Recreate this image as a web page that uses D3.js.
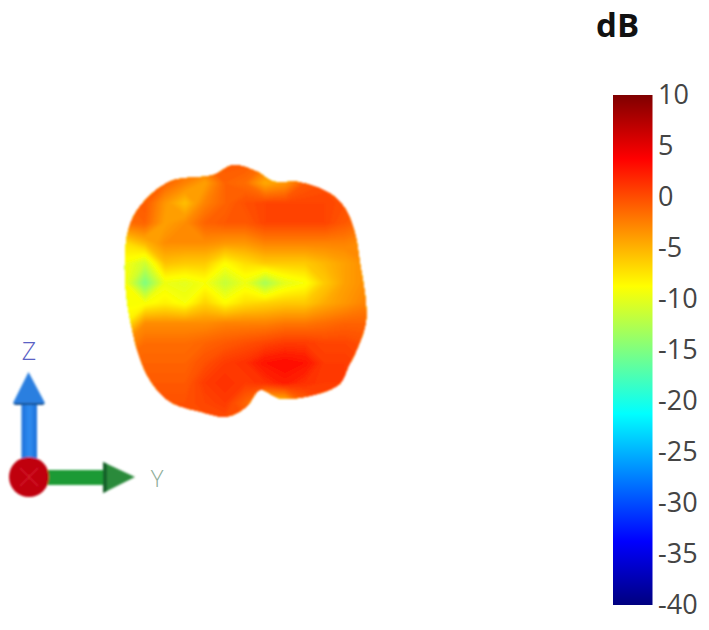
<!DOCTYPE html>
<html lang="en">

<head>
    <meta charset="UTF-8">
    <style>
        body { margin: 0; background: #fff; }
        text { font-family: "Open Sans", sans-serif; }
    </style>
    <script src="https://d3js.org/d3.v7.min.js"></script>
</head>

<body>

    <svg id="chart" width="709" height="630" xmlns="http://www.w3.org/2000/svg"></svg>

    <script>
        // colour bar
        const colorStops = [-40, -33.75, -21.25, -8.75, 3.75, 10];
        const colorValues = ["#00007f", "#0000ff", "#00ffff", "#ffff00", "#ff0000", "#7f0000"];
        const barTicks = [10, 5, 0, -5, -10, -15, -20, -25, -30, -35, -40];

        // pattern positions (y and z axis of the plot)
        const gridY = [-6, -5, -4, -3, -2, -1, 0, 1, 2, 3, 4, 5, 6];
        const gridZ = [6.45, 5.45, 4.45, 3.45, 2.45, 1.45, 0.45, -0.55, -1.55, -2.55, -3.55, -4.55, -5.55, -6.55];

        // gain in dB, one row per gridZ
        const gain = [
            [-1, -1, -1, -1, -1, -0.5, -0.5, -1.5, -2, -1, -1, -1, -1],
            [-1, -1, -1, -2.5, -4, -1, -1.5, -4.5, -3.5, -0.5, 0, 0, -0.5],
            [-1, -0.5, -3.5, -5.5, -2.5, -1, 0, 0.5, 0.5, 0.5, 0.5, 0, -0.5],
            [-1.5, -1, -4, -3, -1, -0.5, -0.5, 0.5, 0.5, 0.5, 0.5, -0.5, -1.5],
            [-7, -5, -3, -3, -3, -3.5, -3.5, -2.5, -2.5, -2.5, -2.5, -2.5, -3],
            [-9, -11, -5.5, -6, -6, -8.5, -7, -6, -6, -6, -5, -4, -3],
            [-9, -15, -9.5, -10, -9, -11.5, -9.5, -13, -10, -9, -6, -4, -3],
            [-9, -9, -8, -9, -6.5, -8.5, -7, -6.5, -6, -6, -4.5, -3.5, -2.5],
            [-8, -3, -3, -3, -3, -2.5, -2.5, -2.5, -2, -2, -1.5, -1, -1],
            [-3, -1.5, -1.5, -1.5, -1, -0.5, 0, 0.5, 1, 1, 0.5, 0.5, 0],
            [-1, -1, -1, -1, 0, 1, 1.5, 3, 3.5, 3, 1, 1, 0.5],
            [-0.5, -0.5, -0.5, -0.5, 1, 1.5, 1, 1.5, 2.5, 1.5, 1, 1, 0.5],
            [0, 0, 0, 0, 0.5, 1, -1, -6, -6, -1, 0.5, 0.5, 0],
            [0, 0, 0, 0, 0, 0, 0, 0, 0, 0, 0, 0, 0]
        ];

        // silhouette of the pattern, clockwise from the top
        const outlineY = [-0.58, 0.58, 1.42, 2.75, 4.25, 5.0, 5.5, 5.75, 6.03, 6.03, 5.58, 5.17, 4.75, 3.42, 1.75, 0.75, 0.08, -0.92, -2.25, -3.75, -4.75, -5.33, -5.67, -5.92, -6.0, -5.83, -5.25, -3.75, -1.58];
        const outlineZ = [6.35, 6.02, 5.52, 5.48, 4.93, 4.18, 2.93, 1.43, -0.4, -1.57, -2.9, -3.73, -4.57, -5.15, -5.32, -4.9, -5.73, -6.23, -5.98, -5.48, -4.4, -3.07, -1.73, -0.23, 1.43, 3.1, 4.27, 5.52, 5.85];

        const svg = d3.select("#chart");
        const defs = svg.append("defs");

        const color = d3.scaleLinear().domain(colorStops).range(colorValues).clamp(true);

        // plot scales: 20px per unit around the centre of the pattern
        const y = d3.scaleLinear().domain([-6, 6]).range([125, 365]);
        const z = d3.scaleLinear().domain([6.45, -6.55]).range([163, 423]);

        defs.append("filter").attr("id", "soft")
            .attr("x", "-10%").attr("y", "-10%").attr("width", "120%").attr("height", "120%")
            .append("feGaussianBlur").attr("stdDeviation", 0.9);

        defs.append("clipPath").attr("id", "outline")
            .append("path")
            .attr("d", d3.line()
                .x((d, i) => y(outlineY[i]))
                .y((d, i) => z(outlineZ[i]))
                .curve(d3.curveCatmullRomClosed.alpha(0.5))(outlineY));

        // filled contours of the gain grid
        const contours = d3.contours()
            .size([gridY.length, gridZ.length])
            .smooth(true)
            .thresholds(d3.range(-20, 6, 0.25))(gain.flat());

        // contour coordinates are grid indices + 0.5
        const gridToY = d3.scaleLinear().domain([0.5, gridY.length - 0.5]).range([y(gridY[0]), y(gridY[gridY.length - 1])]);
        const gridToZ = d3.scaleLinear().domain([0.5, gridZ.length - 0.5]).range([z(gridZ[0]), z(gridZ[gridZ.length - 1])]);
        const gridPath = d3.geoPath(d3.geoTransform({
            point(a, b) { this.stream.point(gridToY(a), gridToZ(b)); }
        }));

        const pattern = svg.append("g").attr("filter", "url(#soft)")
            .append("g").attr("clip-path", "url(#outline)");

        pattern.selectAll("path")
            .data(contours)
            .join("path")
            .attr("d", gridPath)
            .attr("fill", d => color(d.value));

        // colour bar
        const bar = d3.scaleLinear().domain([10, -40]).range([95, 605]);

        const grad = defs.append("linearGradient").attr("id", "jet")
            .attr("x1", 0).attr("x2", 0).attr("y1", 1).attr("y2", 0);
        grad.selectAll("stop")
            .data(colorStops)
            .join("stop")
            .attr("offset", d => (d + 40) / 50)
            .attr("stop-color", d => color(d));

        svg.append("rect")
            .attr("x", 613).attr("y", bar(10))
            .attr("width", 39.5).attr("height", bar(-40) - bar(10))
            .attr("fill", "url(#jet)");

        // plain hyphen in the labels, like the original
        const barAxis = svg.append("g")
            .attr("transform", "translate(658,0)")
            .call(d3.axisRight(bar).tickValues(barTicks).tickSize(0).tickPadding(0).tickFormat(d => String(d)));
        barAxis.select(".domain").remove();
        barAxis.selectAll("text")
            .attr("font-size", 27)
            .attr("fill", "#444")
            .style("font-family", '"Open Sans", sans-serif');

        svg.append("text")
            .attr("x", 596).attr("y", 37)
            .attr("font-size", 33).attr("font-weight", 700).attr("fill", "#111")
            .text("dB");

        // orientation triad
        const triad = svg.append("g").attr("filter", "url(#soft)");

        defs.append("linearGradient").attr("id", "zShaft")
            .selectAll("stop").data([["0", "#1c6fd8"], ["0.5", "#2f8cf0"], ["1", "#1c6fd8"]])
            .join("stop").attr("offset", d => d[0]).attr("stop-color", d => d[1]);

        triad.append("rect").attr("x", 21.5).attr("y", 400).attr("width", 15.5).attr("height", 65).attr("fill", "url(#zShaft)");
        triad.append("path").attr("d", "M28.5,372L45,403L13,403Z").attr("fill", "#2a7fe0");
        triad.append("path").attr("d", "M13,403L45,403L43,405L15,405Z").attr("fill", "#14508f");

        triad.append("rect").attr("x", 45).attr("y", 470).attr("width", 60).attr("height", 15).attr("fill", "#1f9a35");
        triad.append("path").attr("d", "M103,462L135,477L103,493Z").attr("fill", "#2a8a3a");
        triad.append("path").attr("d", "M103,462L107,464L107,491L103,493Z").attr("fill", "#13602a");

        triad.append("circle").attr("cx", 29).attr("cy", 477).attr("r", 20).attr("fill", "#c00010");
        triad.append("path").attr("d", "M20,468L38,486M38,468L20,486").attr("stroke", "#e0303a").attr("stroke-width", 1.5).attr("opacity", 0.6);

        svg.append("text")
            .attr("x", 29).attr("y", 360).attr("text-anchor", "middle")
            .attr("font-size", 25).attr("font-weight", 300).attr("fill", "#5a62c4")
            .text("Z");
        svg.append("text")
            .attr("x", 157).attr("y", 487).attr("text-anchor", "middle")
            .attr("font-size", 24).attr("font-weight", 300).attr("fill", "#8fae9a")
            .text("Y");
    </script>

</body>

</html>
